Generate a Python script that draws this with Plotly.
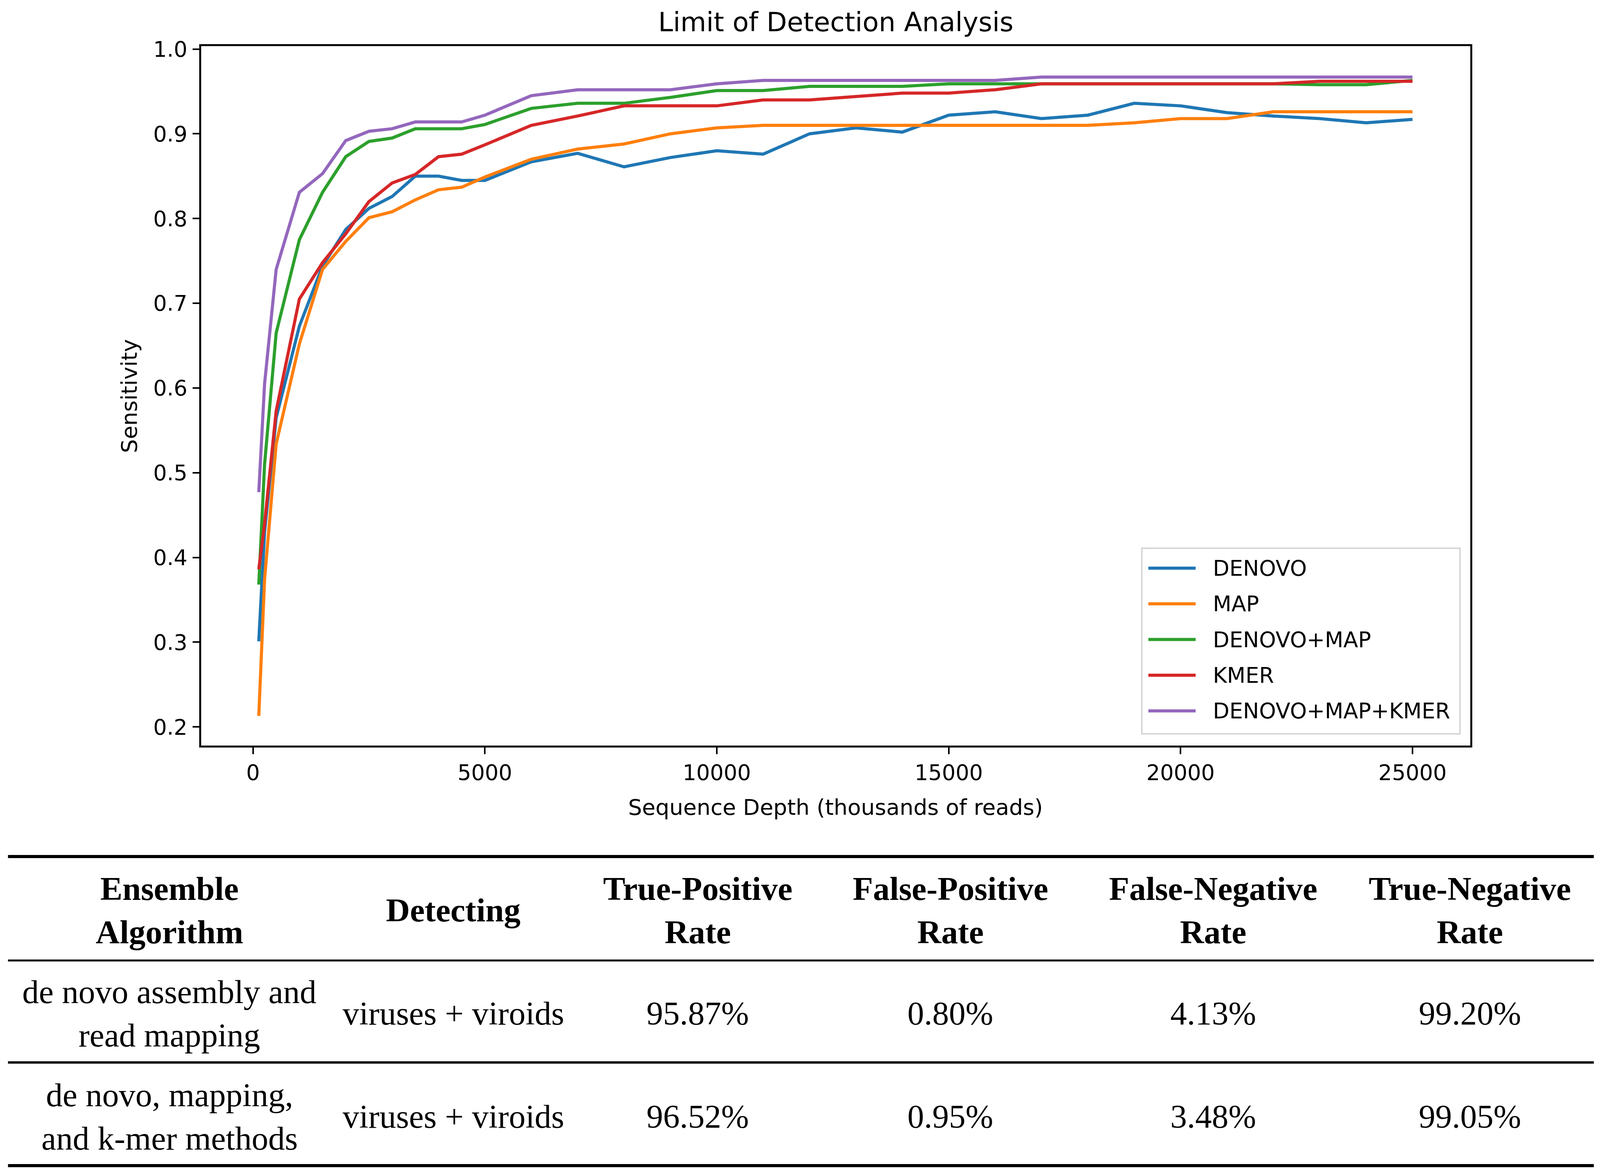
import plotly.graph_objects as go

# Sequence depth (thousands of reads)
depth = [125, 250, 500, 1000, 1500, 2000, 2500, 3000, 3500, 4000, 4500, 5000,
         6000, 7000, 8000, 9000, 10000, 11000, 12000, 13000, 14000, 15000,
         16000, 17000, 18000, 19000, 20000, 21000, 22000, 23000, 24000, 25000]

denovo = [0.301, 0.43, 0.565, 0.673, 0.744, 0.787, 0.812, 0.826, 0.850, 0.850, 0.845, 0.845,
          0.867, 0.877, 0.861, 0.872, 0.880, 0.876, 0.900, 0.907, 0.902, 0.922,
          0.926, 0.918, 0.922, 0.936, 0.933, 0.925, 0.921, 0.918, 0.913, 0.917]
map_only = [0.213, 0.374, 0.534, 0.652, 0.740, 0.773, 0.801, 0.808, 0.822, 0.834, 0.837, 0.849,
            0.870, 0.882, 0.888, 0.900, 0.907, 0.910, 0.910, 0.910, 0.910, 0.910,
            0.910, 0.910, 0.910, 0.913, 0.918, 0.918, 0.926, 0.926, 0.926, 0.926]
denovo_map = [0.368, 0.510, 0.665, 0.775, 0.831, 0.873, 0.891, 0.895, 0.906, 0.906, 0.906, 0.911,
              0.930, 0.936, 0.936, 0.943, 0.951, 0.951, 0.956, 0.956, 0.956, 0.959,
              0.959, 0.959, 0.959, 0.959, 0.959, 0.959, 0.959, 0.958, 0.958, 0.963]
kmer = [0.386, 0.44, 0.573, 0.705, 0.748, 0.782, 0.820, 0.842, 0.852, 0.873, 0.876, 0.887,
        0.910, 0.921, 0.933, 0.933, 0.933, 0.940, 0.940, 0.944, 0.948, 0.948,
        0.952, 0.959, 0.959, 0.959, 0.959, 0.959, 0.959, 0.962, 0.962, 0.962]
denovo_map_kmer = [0.477, 0.605, 0.740, 0.831, 0.853, 0.892, 0.903, 0.906, 0.914, 0.914, 0.914, 0.922,
                   0.945, 0.952, 0.952, 0.952, 0.959, 0.963, 0.963, 0.963, 0.963, 0.963,
                   0.963, 0.967, 0.967, 0.967, 0.967, 0.967, 0.967, 0.967, 0.967, 0.967]

series_names = ["DENOVO", "MAP", "DENOVO+MAP", "KMER", "DENOVO+MAP+KMER"]
series_values = [denovo, map_only, denovo_map, kmer, denovo_map_kmer]
series_colors = ["#1f77b4", "#ff7f0e", "#2ca02c", "#d62728", "#9467bd"]

x_ticks = [0, 5000, 10000, 15000, 20000, 25000]
y_ticks = [0.2, 0.3, 0.4, 0.5, 0.6, 0.7, 0.8, 0.9, 1.0]

# Table under the chart
table_header = ["Ensemble<br>Algorithm", "Detecting", "True-Positive<br>Rate",
                "False-Positive<br>Rate", "False-Negative<br>Rate", "True-Negative<br>Rate"]
table_rows = [
    ["de novo assembly and<br>read mapping", "viruses + viroids", "95.87%", "0.80%", "4.13%", "99.20%"],
    ["de novo, mapping,<br>and k-mer methods", "viruses + viroids", "96.52%", "0.95%", "3.48%", "99.05%"],
]

# reference canvas, used only to place things in paper coordinates
W, H = 4400, 3007
TOP = 24  # the page starts ~24 px below the top of the shot
SANS = "DejaVu Sans"
SERIF = "Liberation Serif"


def px(x):
    """pixel -> paper x"""
    return x / W


def py(y):
    """pixel -> paper y (from the top)"""
    return 1 - (y - TOP) / (H - TOP)


def label(fig, text, x, y, size, family=SANS, **kw):
    """Texte centre en coordonnees pixel"""
    opts = dict(xanchor="center", yanchor="middle", align="center")
    opts.update(kw)
    fig.add_annotation(text=text, x=px(x), y=py(y), xref="paper", yref="paper",
                       showarrow=False, font=dict(family=family, size=size, color="black"),
                       **opts)


def add_chart(fig):
    """Courbes de sensibilite"""
    for name, vals, color in zip(series_names, series_values, series_colors):
        fig.add_trace(go.Scatter(x=depth, y=vals, mode="lines", name=name,
                                 line=dict(color=color, width=8), showlegend=False))

    axis_common = dict(showline=True, mirror=True, linecolor="black", linewidth=5,
                       ticks="outside", ticklen=17, tickwidth=4, tickcolor="black",
                       showgrid=False, zeroline=False,
                       tickfont=dict(family=SANS, size=55, color="black"))
    fig.update_xaxes(range=[-1119, 26244], domain=[px(553), px(4043)],
                     tickvals=x_ticks, tickformat="d", ticklabelstandoff=0, **axis_common)
    fig.update_yaxes(range=[0.178, 1.0035], domain=[py(1908), py(118)],
                     tickvals=y_ticks, tickformat=".1f", ticklabelstandoff=2, **axis_common)

    label(fig, "Limit of Detection Analysis", 2298, 56, 68)
    label(fig, "Sequence Depth (thousands of reads)", 2298, 2065, 56)
    label(fig, "Sensitivity", 356, 1013, 56, textangle=-90)


def add_legend(fig):
    """Legende dessinee a la main (traits longs comme matplotlib)"""
    fig.add_shape(type="rect", xref="paper", yref="paper",
                  x0=px(3140), x1=px(4015), y0=py(1878), y1=py(1403),
                  line=dict(color="#d6d6d6", width=4), fillcolor="white")
    for i, (name, color) in enumerate(zip(series_names, series_colors)):
        yy = 1454 + i * 91.3
        fig.add_shape(type="line", xref="paper", yref="paper",
                      x0=px(3158), x1=px(3288), y0=py(yy), y1=py(yy),
                      line=dict(color=color, width=8))
        label(fig, name, 3333, yy, 55, xanchor="left", align="left")


def add_table(fig):
    """Tableau des taux"""
    col_x = [466, 1247, 1919, 2614, 3336, 4042]
    header_y = 2329
    row_y = [2593, 2857]
    rules = [(2192, 8), (2458, 5), (2719, 6), (2983, 8)]

    for y, w in rules:
        fig.add_shape(type="line", xref="paper", yref="paper",
                      x0=px(22), x1=px(4383), y0=py(y), y1=py(y),
                      line=dict(color="black", width=w))

    for cx, head in zip(col_x, table_header):
        text = "<br>".join("<b>%s</b>" % part for part in head.split("<br>"))
        label(fig, text, cx, header_y, 85, family=SERIF)

    for ry, row in zip(row_y, table_rows):
        for cx, cell in zip(col_x, row):
            label(fig, cell, cx, ry, 85, family=SERIF)


# the graph div is pinned to the whole window
FILL_WINDOW = (
    "var gd = document.getElementById('{plot_id}');"
    "document.documentElement.style.margin = '0';"
    "document.body.style.margin = '0';"
    "document.body.style.overflow = 'hidden';"
    "gd.style.position = 'fixed'; gd.style.left = '0'; gd.style.top = '0';"
    "gd.style.width = '100vw'; gd.style.height = '100vh';"
    "Plotly.Plots.resize(gd);"
)


def main():
    fig = go.Figure()
    add_chart(fig)
    add_legend(fig)
    add_table(fig)
    fig.update_layout(autosize=True, margin=dict(l=0, r=0, t=0, b=0),
                      paper_bgcolor="white", plot_bgcolor="white", showlegend=False)
    fig.write_html("out.html", default_width="100%", default_height="100%",
                   config={"displayModeBar": False}, post_script=FILL_WINDOW)


if __name__ == "__main__":
    main()
